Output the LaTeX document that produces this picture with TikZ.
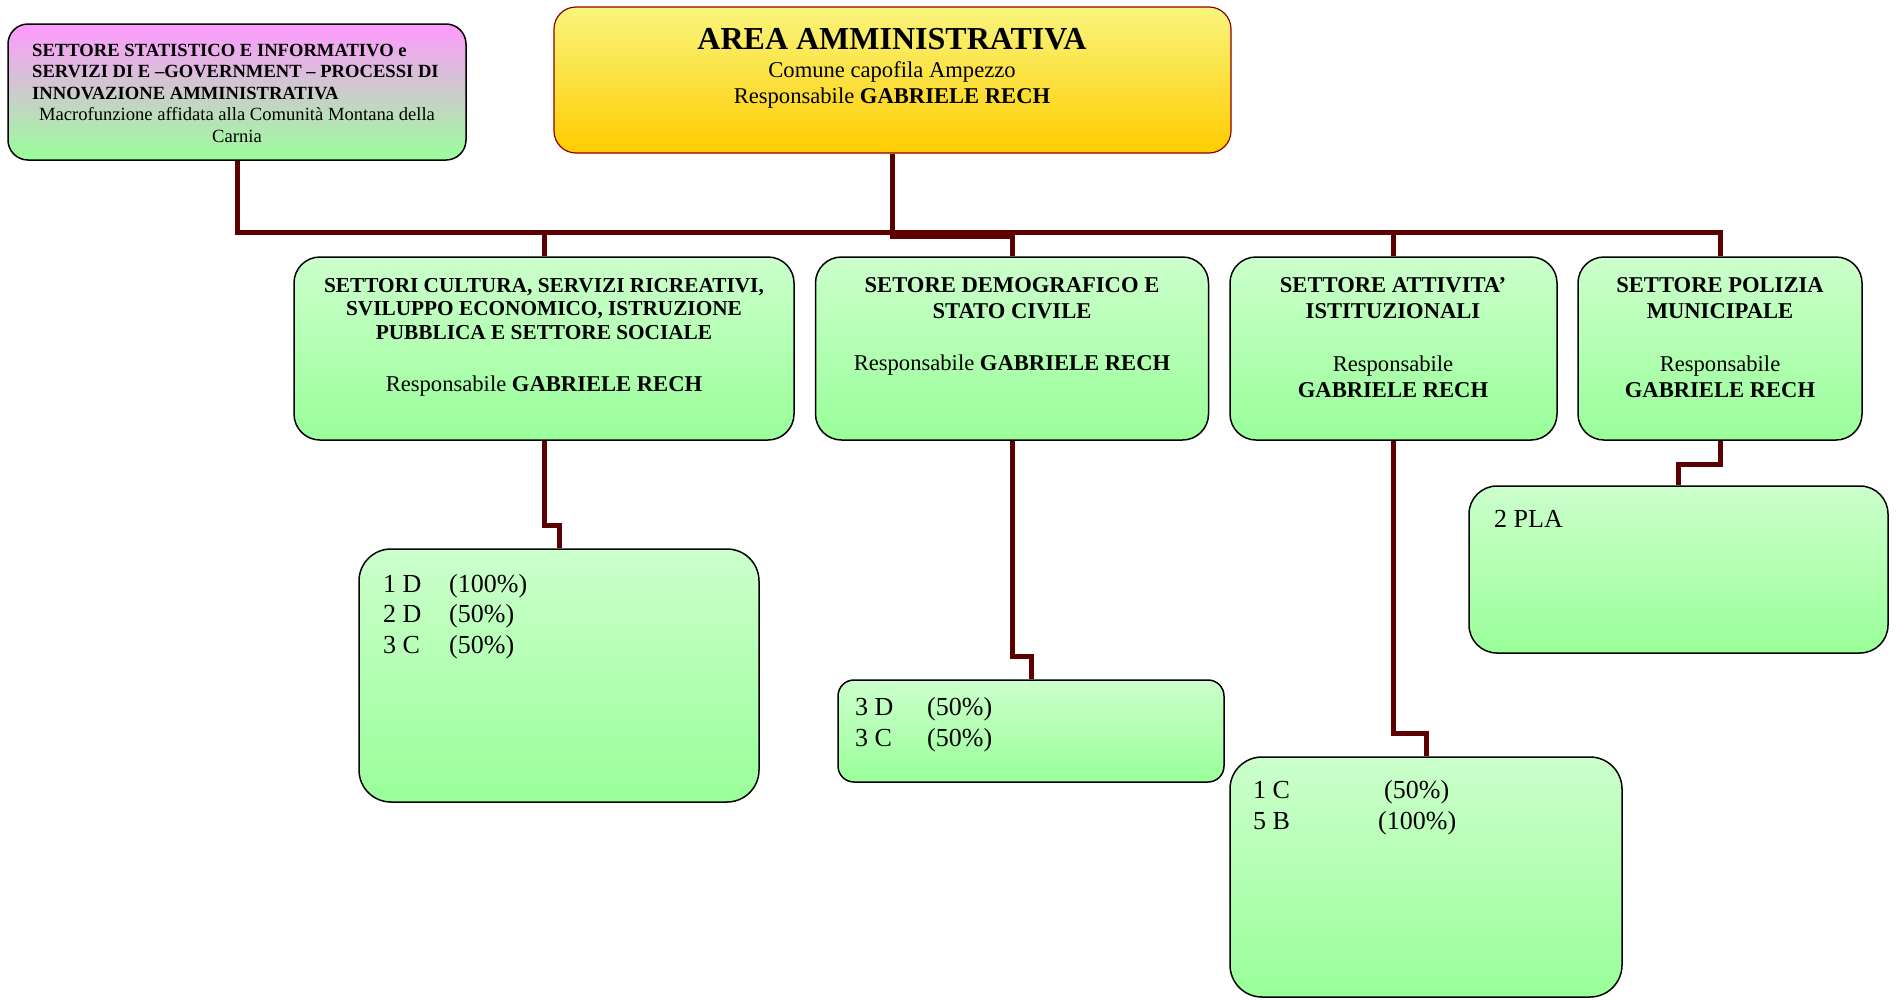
\documentclass[tikz,border=0pt]{standalone}
\usepackage{fontspec}
\setmainfont{Liberation Serif}
\usetikzlibrary{backgrounds,calc}
\definecolor{wire}{HTML}{5C0000}
\definecolor{gtop}{HTML}{CCFFCC}
\definecolor{gbot}{HTML}{99FF99}
\definecolor{ptop}{HTML}{FF99FF}
\definecolor{ytop}{HTML}{F9F57E}
\definecolor{ybot}{HTML}{FFCC00}
\definecolor{aedge}{HTML}{8B0000}
\begin{document}
\begin{tikzpicture}[x=1pt,y=-1pt,
  box/.style={draw=black,line width=1.5pt,rounded corners=26pt,inner sep=0pt,
    top color=gtop,bottom color=gbot},
  wirepath/.style={draw=wire,line width=5pt},
  txt/.style={inner sep=0pt,anchor=base,align=center},
  ftA/.style={font=\fontsize{21.3}{23.5}\selectfont\bfseries},
  ftB/.style={font=\fontsize{22.6}{26}\selectfont},
  ftBb/.style={font=\fontsize{22.6}{26}\selectfont\bfseries},
  ftP/.style={font=\fontsize{18.6}{21.5}\selectfont},
  ftPb/.style={font=\fontsize{18.6}{21.3}\selectfont\bfseries},
  ftL/.style={font=\fontsize{26}{30.5}\selectfont},
]
\useasboundingbox (0,0) rectangle (1896,999);

% boxes
\node[box,rounded corners=20pt,top color=ptop,bottom color=gbot,minimum width=458pt,minimum height=136pt] (P) at (237,92) {};
\node[box,draw=aedge,line width=1.2pt,rounded corners=22pt,top color=ytop,bottom color=ybot,minimum width=677pt,minimum height=146pt] (T) at (892.5,80) {};
\node[box,minimum width=500pt,minimum height=183pt] (A) at (544,348.5) {};
\node[box,minimum width=393pt,minimum height=183pt] (B) at (1012,348.5) {};
\node[box,minimum width=327pt,minimum height=183pt] (C) at (1393.5,348.5) {};
\node[box,minimum width=284pt,minimum height=183pt] (D) at (1720,348.5) {};
\node[box,rounded corners=32pt,minimum width=400pt,minimum height=253pt] (E) at (559,675.5) {};
\node[box,rounded corners=16pt,minimum width=386pt,minimum height=102pt] (F) at (1031,731) {};
\node[box,rounded corners=32pt,minimum width=392pt,minimum height=240pt] (G) at (1426,877) {};
\node[box,rounded corners=28pt,minimum width=419pt,minimum height=167pt] (H) at (1678.5,569.5) {};

% connectors
\coordinate (bus) at (0,232);
\begin{scope}[on background layer]
  \draw[wirepath] (P.south) -- (P.south |- bus) -- (bus -| D.north) -- (D.north);
  \draw[wirepath] (T.south) -- (T.south |- bus) -- ($(T.south |- bus)+(0,4)$) -| (B.north);
  \draw[wirepath] (A.north) -- (A.north |- bus);
  \draw[wirepath] (C.north) -- (C.north |- bus);
  \draw[wirepath] (A.south) -- (A.south |- 0,525) -| (E.north);
  \draw[wirepath] (B.south) -- (B.south |- 0,656) -| (F.north);
  \draw[wirepath] (C.south) -- (C.south |- 0,733) -| (G.north);
  \draw[wirepath] (D.south) -- (D.south |- 0,464) -| (H.north);
\end{scope}

% texts (multi-line nodes: base = last line)
\node[txt,ftPb,anchor=base west,align=left] (pt1) at (32,99)
  {SETTORE STATISTICO E INFORMATIVO e\\SERVIZI DI E –GOVERNMENT – PROCESSI DI\\INNOVAZIONE AMMINISTRATIVA};
\node[txt,ftP] (pt2) at (237,142) {Macrofunzione affidata alla Comunità Montana della\\Carnia};

\node[txt,font=\fontsize{32}{36}\selectfont\bfseries] (tt1) at (892,49) {AREA AMMINISTRATIVA};
\node[txt,ftB] (tt2) at (892,77) {Comune capofila Ampezzo};
\node[txt,ftB] (tt3) at (892,103) {Responsabile \textbf{GABRIELE RECH}};

\node[txt,ftA] (at1) at (544,339) {SETTORI CULTURA, SERVIZI RICREATIVI,\\SVILUPPO ECONOMICO, ISTRUZIONE\\PUBBLICA E SETTORE SOCIALE};
\node[txt,ftB] (at2) at (544,391) {Responsabile \textbf{GABRIELE RECH}};

\node[txt,ftBb] (bt1) at (1012,318) {SETORE DEMOGRAFICO E\\STATO CIVILE};
\node[txt,ftB] (bt2) at (1012,370) {Responsabile \textbf{GABRIELE RECH}};

\node[txt,ftBb] (ct1) at (1393,318) {SETTORE ATTIVITA’\\ISTITUZIONALI};
\node[txt,ftB] (ct2) at (1393,397) {Responsabile\\\textbf{GABRIELE RECH}};

\node[txt,ftBb] (dt1) at (1720,318) {SETTORE POLIZIA\\MUNICIPALE};
\node[txt,ftB] (dt2) at (1720,397) {Responsabile\\\textbf{GABRIELE RECH}};

\node[txt,ftL,anchor=base west,align=left] (et) at (383,653)
  {\makebox[66pt][l]{1 D}(100\%)\\\makebox[66pt][l]{2 D}(50\%)\\\makebox[66pt][l]{3 C}(50\%)};
\node[txt,ftL,anchor=base west,align=left] (ft) at (855,746)
  {\makebox[72pt][l]{3 D}(50\%)\\\makebox[72pt][l]{3 C}(50\%)};
\node[txt,ftL,anchor=base west,align=left] (gt) at (1253,829)
  {\makebox[131pt][l]{1 C}(50\%)\\\makebox[125pt][l]{5 B}(100\%)};
\node[txt,ftL,anchor=base west] (ht) at (1494,527) {2 PLA};
\end{tikzpicture}
\end{document}
